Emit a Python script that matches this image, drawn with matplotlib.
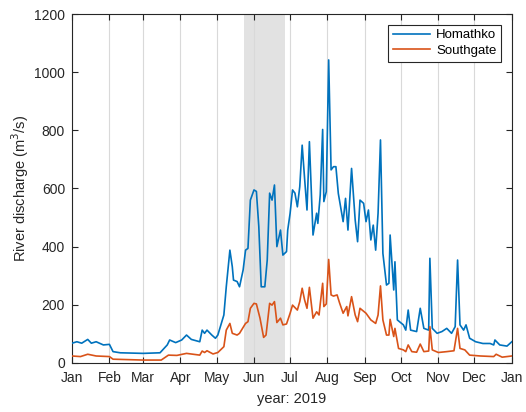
import numpy as np
import matplotlib
matplotlib.use("Agg")
import matplotlib.pyplot as plt
import matplotlib.dates as mdates

plt.rcParams['font.family'] = ['Liberation Sans', 'DejaVu Sans']

# day of year 2019 (0 = Jan 1) and discharge
homathko_day = [0, 4, 8, 13, 16, 20, 26, 31, 34, 40, 59, 73, 79, 81, 86, 91, 95, 99,
                106, 108, 110, 112, 116, 119, 121, 126, 128, 131, 133, 134, 137, 139,
                142, 144, 146, 148, 151, 153, 155, 157, 160, 162, 164, 166, 168, 170,
                173, 175, 178, 179, 181, 183, 185, 187, 189, 191, 193, 195, 197, 200,
                203, 204, 206, 208, 209, 211, 213, 215, 217, 219, 221, 225, 227, 229,
                232, 235, 237, 239, 242, 244, 246, 248, 250, 252, 254, 256, 258, 261,
                263, 264, 267, 268, 270, 275, 277, 279, 281, 286, 289, 292, 296, 297,
                299, 303, 307, 311, 315, 318, 320, 322, 325, 327, 330, 335, 341, 347,
                350, 351, 355, 361, 365]
homathko = [68, 73, 68, 81, 68, 73, 62, 64, 39, 35, 33, 35, 62, 79, 70, 79, 96, 81,
            73, 113, 102, 113, 96, 85, 96, 165, 262, 388, 331, 285, 280, 262,
            320, 388, 394, 560, 595, 590, 469, 262, 262, 354, 584, 560, 612, 400,
            457, 371, 383, 457, 515, 595, 584, 537, 606, 749, 635, 526, 761, 440,
            515, 480, 578, 803, 555, 589, 1042, 664, 675, 675, 583, 486, 566, 457,
            669, 492, 417, 560, 549, 486, 526, 423, 474, 388, 515, 767, 377, 268,
            274, 440, 251, 348, 148, 131, 113, 182, 113, 108, 188, 119, 113, 360,
            119, 102, 108, 119, 102, 125, 354, 131, 113, 131, 85, 73, 67, 67,
            62, 79, 62, 58, 73]

southgate_day = [0, 7, 13, 20, 31, 34, 59, 74, 80, 87, 95, 106, 108, 110, 112, 117,
                 121, 126, 128, 131, 133, 137, 139, 144, 146, 148, 151, 153, 156, 159,
                 161, 164, 166, 168, 170, 173, 175, 178, 181, 183, 187, 189, 191, 193,
                 195, 197, 200, 203, 205, 206, 208, 209, 211, 213, 215, 217, 220, 222,
                 225, 228, 229, 232, 235, 237, 239, 244, 248, 252, 254, 256, 258, 261,
                 263, 264, 267, 268, 271, 275, 277, 279, 282, 286, 289, 292, 296, 297,
                 299, 304, 311, 317, 320, 322, 326, 330, 339, 350, 352, 357, 365]
southgate = [24, 22, 30, 24, 22, 13, 10, 10, 27, 26, 33, 27, 41, 36, 42, 31,
             36, 56, 113, 136, 102, 96, 102, 136, 142, 188, 205, 203, 154, 88,
             96, 205, 199, 211, 139, 154, 131, 134, 171, 199, 182, 211, 257, 217,
             188, 260, 154, 176, 165, 203, 274, 194, 203, 356, 234, 230, 234, 207,
             171, 194, 162, 228, 165, 142, 188, 171, 148, 136, 165, 265, 148, 96,
             96, 150, 91, 119, 50, 45, 39, 62, 39, 37, 65, 39, 41, 125,
             45, 36, 39, 42, 119, 50, 45, 27, 24, 22, 30, 20, 24]

shade_start, shade_end = 143, 177

start = np.datetime64('2019-01-01')
d_h = start + np.array(homathko_day, dtype='timedelta64[D]')
d_s = start + np.array(southgate_day, dtype='timedelta64[D]')

fig = plt.figure(figsize=(5.26, 4.12), dpi=100)
ax = fig.add_axes([0.137, 0.119, 0.836, 0.847])

ax.axvspan(start + np.timedelta64(shade_start, 'D'), start + np.timedelta64(shade_end, 'D'),
           color='#e2e2e2', lw=0, zorder=0)
ax.plot(d_h, homathko, color='#0072BD', lw=1.2, label='Homathko', zorder=3)
ax.plot(d_s, southgate, color='#D95319', lw=1.2, label='Southgate', zorder=3)

ax.set_xlim(np.datetime64('2019-01-01'), np.datetime64('2020-01-01'))
ax.set_ylim(0, 1200)
ax.set_yticks(np.arange(0, 1201, 200))
ax.xaxis.set_major_locator(mdates.MonthLocator())
ax.xaxis.set_major_formatter(mdates.DateFormatter('%b'))

ax.grid(axis='x', color='#d9d9d9', lw=0.8, zorder=1)
ax.set_axisbelow(True)
ax.tick_params(direction='in', top=True, right=True, length=4, width=0.8,
               colors='#262626', labelsize=10, pad=6)
ax.tick_params(axis='y', pad=5)
for s in ax.spines.values():
    s.set_color('#262626')
    s.set_linewidth(0.8)

ax.set_xlabel('year: 2019', fontsize=10.5, color='#262626', labelpad=5)
ax.set_ylabel('River discharge (m$^3$/s)', fontsize=10.5, color='#262626', labelpad=2)

leg = ax.legend(loc='upper right', fontsize=9.5, fancybox=False, framealpha=1,
                edgecolor='#262626', handlelength=2.8, handletextpad=0.5,
                borderpad=0.35, labelspacing=0.25, borderaxespad=0.8)
leg.get_frame().set_linewidth(0.8)

fig.savefig('out.png', dpi=100)
